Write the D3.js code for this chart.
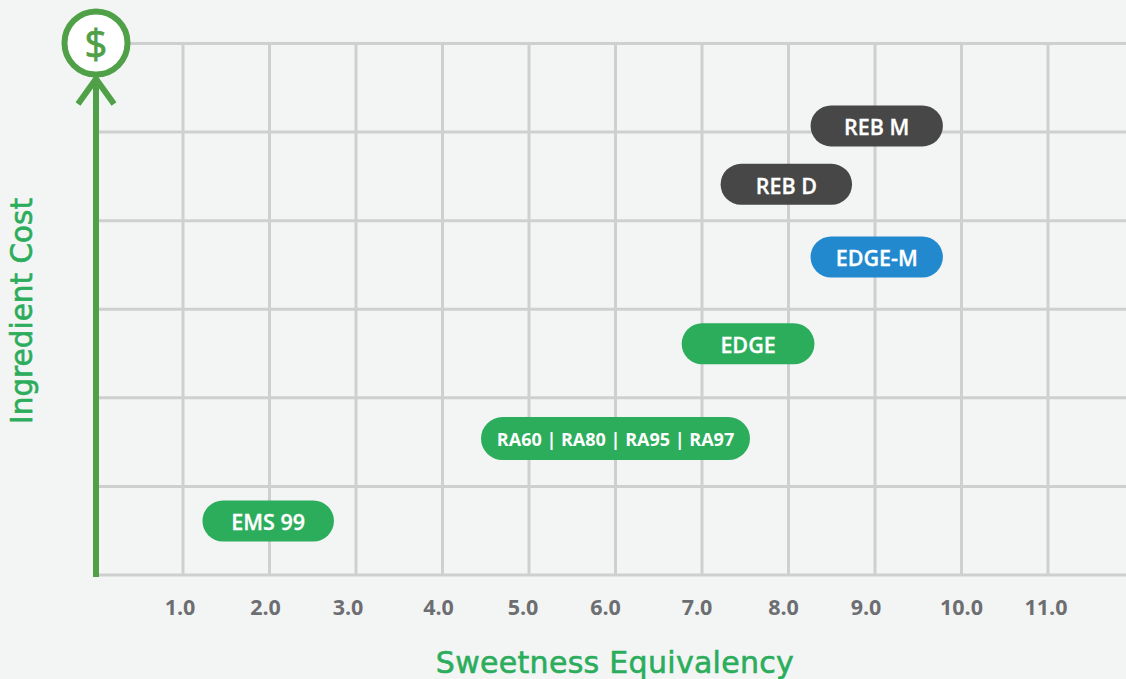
<!DOCTYPE html>
<html>
<head>
<meta charset="utf-8">
<script src="https://cdn.jsdelivr.net/npm/d3@7"></script>
<style>
  html, body { margin: 0; padding: 0; background: #f3f5f5; }
  svg { display: block; }
  .domain { display: none; }
  .tick line { stroke: #cfcfcf; stroke-width: 3; }
</style>
</head>
<body>
<svg id="chart" width="1126" height="679"></svg>
<script>
const xTicks = [1, 2, 3, 4, 5, 6, 7, 8, 9, 10, 11];
const yTicks = [0, 1, 2, 3, 4, 5, 6];
const labels = ["EMS 99", "RA60 | RA80 | RA95 | RA97", "EDGE", "EDGE-M", "REB D", "REB M"];
const sweetLow = [1.225, 4.445, 6.765, 8.255, 7.215, 8.255];
const sweetHigh = [2.745, 7.555, 8.3, 9.785, 8.735, 9.785];
const costs = [0.61, 1.54, 2.61, 3.59, 4.41, 5.07];
const groups = ["stevia", "stevia", "stevia", "blend", "reb", "reb"];

const GREEN = "#2bad5c";
const color = d3.scaleOrdinal()
  .domain(["stevia", "blend", "reb"])
  .range([GREEN, "#2289cf", "#474747"]);

// the printed tick labels don't sit quite centred on their gridlines
const labelNudge = [-3, -4, -8, -4, -6, -10, -5, -5, -9, 0, -2];

const svg = d3.select("#chart");
const x = d3.scaleLinear().domain([0, 11]).range([96.5, 1048]);
const y = d3.scaleLinear().domain([0, 6]).range([575, 43.5]);

// gridlines
const gridX = svg.append("g")
  .attr("transform", `translate(0,${y(0)})`)
  .call(d3.axisBottom(x).tickValues(xTicks).tickSize(y(6) - y(0)).tickFormat("").offset(0));
gridX.selectAll("text").remove();

svg.append("g")
  .attr("transform", `translate(${x(0)},0)`)
  .call(d3.axisLeft(y).tickValues(yTicks).tickSize(x(0) - 1126).tickFormat("").offset(0));

// tick labels
svg.append("g")
  .selectAll("text")
  .data(xTicks)
  .enter()
  .append("text")
  .text(d => d3.format(".1f")(d))
  .attr("x", (d, i) => x(d) + labelNudge[i])
  .attr("y", 615)
  .style("text-anchor", "middle")
  .style("font-family", "'Open Sans'")
  .style("font-size", 21.5)
  .style("font-weight", 700)
  .style("fill", "#6d6e71");

// cost arrow
const ARROW = "#4fa046";
svg.append("line")
  .attr("x1", 96).attr("x2", 96)
  .attr("y1", y(0) + 2).attr("y2", 80)
  .style("stroke", ARROW).style("stroke-width", 6);
svg.append("path")
  .attr("d", "M78,104 L96,79 L114,104")
  .style("fill", "none").style("stroke", ARROW).style("stroke-width", 6);
svg.append("circle")
  .attr("cx", 96).attr("cy", 43).attr("r", 31.5)
  .style("fill", "#fff").style("stroke", ARROW).style("stroke-width", 6);
svg.append("text")
  .text("$")
  .attr("x", 96).attr("y", 58)
  .style("text-anchor", "middle")
  .style("font-family", "'Open Sans'")
  .style("font-size", 40)
  .style("font-weight", 400)
  .style("stroke", ARROW)
  .style("stroke-width", 0.8)
  .style("fill", ARROW);

// pills
const pills = svg.append("g")
  .selectAll("g")
  .data(labels.map((label, i) => i))
  .enter()
  .append("g");
pills.append("rect")
  .attr("x", i => x(sweetLow[i]))
  .attr("width", i => x(sweetHigh[i]) - x(sweetLow[i]))
  .attr("y", i => y(costs[i]) - (i === 1 ? 21.5 : 20.5))
  .attr("height", i => i === 1 ? 43 : 41)
  .attr("rx", i => i === 1 ? 21.5 : 20.5)
  .style("fill", i => color(groups[i]));
pills.append("text")
  .text(i => labels[i])
  .attr("x", i => (x(sweetLow[i]) + x(sweetHigh[i])) / 2)
  .attr("y", i => y(costs[i]) + (i === 1 ? 7 : i === 4 ? 10 : 9))
  .style("text-anchor", "middle")
  .style("font-family", "'Open Sans'")
  .style("font-size", i => i === 1 ? 18 : 21.5)
  .style("font-weight", i => i === 1 ? 700 : 600)
  .style("stroke", "#fff")
  .style("stroke-width", i => i === 1 ? 0 : 0.3)
  .style("fill", "#fff");

// axis titles
svg.append("text")
  .text("Sweetness Equivalency")
  .attr("x", 615).attr("y", 673)
  .style("text-anchor", "middle")
  .style("font-family", "'DejaVu Sans'")
  .style("font-size", 30)
  .style("letter-spacing", "0.3px")
  .style("stroke", GREEN)
  .style("stroke-width", 0.6)
  .style("fill", GREEN);
svg.append("text")
  .text("Ingredient Cost")
  .attr("transform", "translate(32,311) rotate(-90)")
  .style("text-anchor", "middle")
  .style("font-family", "'DejaVu Sans'")
  .style("font-size", 29.5)
  .style("stroke", GREEN)
  .style("stroke-width", 0.6)
  .style("fill", GREEN);
</script>
</body>
</html>
